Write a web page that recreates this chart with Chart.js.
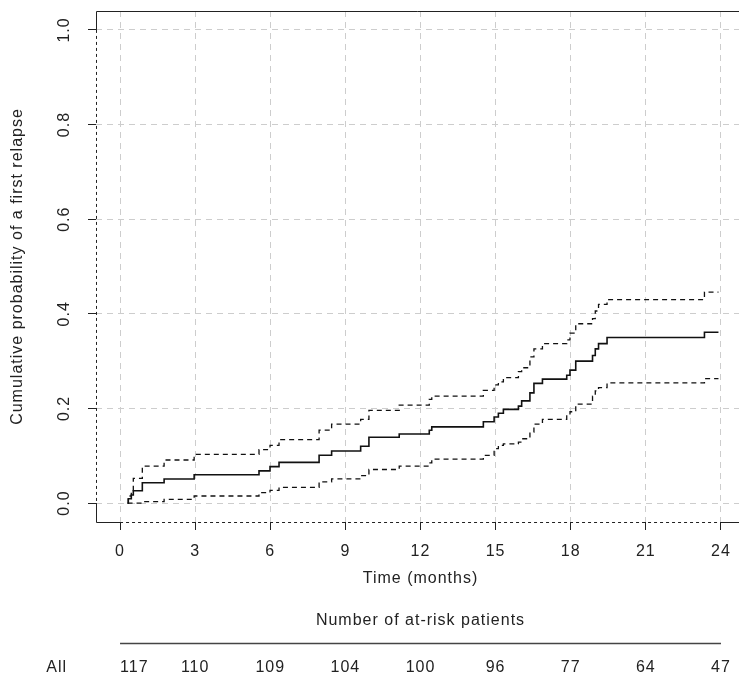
<!DOCTYPE html>
<html>
<head>
<meta charset="utf-8">
<script src="https://cdn.jsdelivr.net/npm/chart.js@4.4.1/dist/chart.umd.min.js"></script>
<style>
  html, body { margin: 0; padding: 0; background: #fff; }
  canvas { display: block; }
</style>
</head>
<body>
<canvas id="relapseChart" width="739" height="684"></canvas>
<script>
// cumulative incidence of first relapse (step curve + 95% CI)
const eventTimes = [0.30, 0.33, 0.45, 0.53, 0.89, 1.76, 2.96, 5.55, 5.99, 6.35, 7.95, 8.45, 9.61, 9.94, 11.15, 12.35, 12.45, 14.51, 14.94, 15.11, 15.31, 15.91, 16.04, 16.37, 16.53, 16.87, 17.84, 17.97, 18.20, 18.87, 18.98, 19.11, 19.45, 23.34, 23.90];
const estimate = [0, 0.009, 0.017, 0.026, 0.043, 0.051, 0.060, 0.068, 0.077, 0.086, 0.101, 0.110, 0.120, 0.139, 0.146, 0.154, 0.161, 0.172, 0.182, 0.190, 0.198, 0.205, 0.216, 0.233, 0.253, 0.262, 0.270, 0.281, 0.300, 0.312, 0.326, 0.337, 0.350, 0.361, 0.361];
const upperCI = [0, 0.015, 0.024, 0.052, 0.078, 0.091, 0.103, 0.113, 0.122, 0.134, 0.154, 0.167, 0.177, 0.196, 0.207, 0.219, 0.226, 0.238, 0.250, 0.256, 0.265, 0.278, 0.286, 0.309, 0.326, 0.337, 0.345, 0.359, 0.379, 0.390, 0.406, 0.420, 0.430, 0.446, 0.446];
const lowerCI = [0, 0, 0, 0, 0.003, 0.008, 0.015, 0.022, 0.027, 0.033, 0.045, 0.051, 0.058, 0.071, 0.078, 0.085, 0.093, 0.101, 0.115, 0.122, 0.125, 0.129, 0.136, 0.150, 0.167, 0.177, 0.186, 0.193, 0.209, 0.226, 0.237, 0.244, 0.254, 0.263, 0.263];

const xTicks = [0, 3, 6, 9, 12, 15, 18, 21, 24];
const yTicks = [0, 0.2, 0.4, 0.6, 0.8, 1.0];
const yTickLabels = ['0.0', '0.2', '0.4', '0.6', '0.8', '1.0'];

// at-risk table
const atRiskTimes = [0, 3, 6, 9, 12, 15, 18, 21, 24];
const atRiskAll = [117, 110, 109, 104, 100, 96, 77, 64, 47];

const FONT = '"Liberation Sans", Arial, sans-serif';
const INK = '#222';

const toPoints = vals => eventTimes.map((t, i) => ({ x: t, y: vals[i] }));

function seg(ctx, x1, y1, x2, y2, dash) {
  ctx.setLineDash(dash);
  ctx.beginPath();
  ctx.moveTo(x1, y1);
  ctx.lineTo(x2, y2);
  ctx.stroke();
}

// R style frame, axis labels (y ones rotated), titles and the at-risk table
const extras = {
  id: 'extras',
  afterDraw(chart) {
    const { ctx, chartArea: a, scales: { x, y } } = chart;
    const x0 = x.getPixelForValue(xTicks[0]);
    const x1 = x.getPixelForValue(xTicks[xTicks.length - 1]);
    const y0 = y.getPixelForValue(yTicks[0]);
    const y1 = y.getPixelForValue(yTicks[yTicks.length - 1]);
    const L = Math.round(a.left) + 0.5, T = Math.round(a.top) + 0.5, B = Math.round(a.bottom) + 0.5;

    ctx.save();
    ctx.strokeStyle = INK;
    ctx.lineWidth = 1;
    seg(ctx, L, T, a.right, T, []);
    seg(ctx, L, T, L, y1, []);
    seg(ctx, L, y1, L, y0, [3, 3]);
    seg(ctx, L, y0, L, B, []);
    seg(ctx, L, B, x0, B, []);
    seg(ctx, x0, B, x1, B, [3, 3]);
    seg(ctx, x1, B, a.right, B, []);
    ctx.setLineDash([]);

    // the R device spaces its glyphs a little wider
    ctx.letterSpacing = '1px';
    ctx.fillStyle = INK;
    ctx.font = '16px ' + FONT;
    ctx.textAlign = 'center';
    ctx.textBaseline = 'middle';

    yTicks.forEach((v, i) => {
      ctx.save();
      ctx.translate(a.left - 31, y.getPixelForValue(v));
      ctx.rotate(-Math.PI / 2);
      ctx.fillText(yTickLabels[i], 0, 0);
      ctx.restore();
    });
    xTicks.forEach(v => ctx.fillText(String(v), x.getPixelForValue(v), a.bottom + 30));

    ctx.save();
    ctx.translate(18, (a.top + a.bottom) / 2);
    ctx.rotate(-Math.PI / 2);
    ctx.fillText('Cumulative probability of a first relapse', 0, 0);
    ctx.restore();

    ctx.fillText('Time (months)', (x0 + x1) / 2, a.bottom + 57);
    ctx.fillText('Number of at-risk patients', (x0 + x1) / 2, 621);
    ctx.strokeStyle = '#444';
    ctx.lineWidth = 1.3;
    seg(ctx, x0, 643.5, x1, 643.5, []);

    ctx.textAlign = 'right';
    ctx.fillText('All', x0 - 53, 668);
    atRiskTimes.forEach((t, i) => {
      ctx.textAlign = i === 0 ? 'left' : 'center';
      ctx.fillText(String(atRiskAll[i]), x.getPixelForValue(t), 668);
    });
    ctx.restore();
  }
};

const gridOpts = { color: '#cdcdcd', lineWidth: 1, tickLength: 8, tickColor: INK, tickWidth: 1 };

new Chart(document.getElementById('relapseChart'), {
  type: 'line',
  data: {
    datasets: [
      { label: 'Estimate', data: toPoints(estimate), borderColor: '#111', borderWidth: 1.6, stepped: 'before', pointRadius: 0, fill: false },
      { label: 'Upper 95% CI', data: toPoints(upperCI), borderColor: '#111', borderWidth: 1.3, borderDash: [5, 4], stepped: 'before', pointRadius: 0, fill: false },
      { label: 'Lower 95% CI', data: toPoints(lowerCI), borderColor: '#111', borderWidth: 1.3, borderDash: [5, 4], stepped: 'before', pointRadius: 0, fill: false }
    ]
  },
  options: {
    responsive: false,
    animation: false,
    devicePixelRatio: 1,
    layout: { padding: { left: 88, right: 0, top: 11, bottom: 154 } },
    plugins: { legend: { display: false }, tooltip: { enabled: false } },
    scales: {
      x: {
        type: 'linear',
        min: -0.96,
        max: 24.72,
        afterBuildTicks: s => { s.ticks = xTicks.map(v => ({ value: v })); },
        grid: gridOpts,
        border: { display: false, dash: [6, 5] },
        ticks: { display: false }
      },
      y: {
        type: 'linear',
        min: -0.04,
        max: 1.04,
        afterBuildTicks: s => { s.ticks = yTicks.map(v => ({ value: v })); },
        grid: gridOpts,
        border: { display: false, dash: [6, 5] },
        ticks: { display: false }
      }
    }
  },
  plugins: [extras]
});
</script>
</body>
</html>
